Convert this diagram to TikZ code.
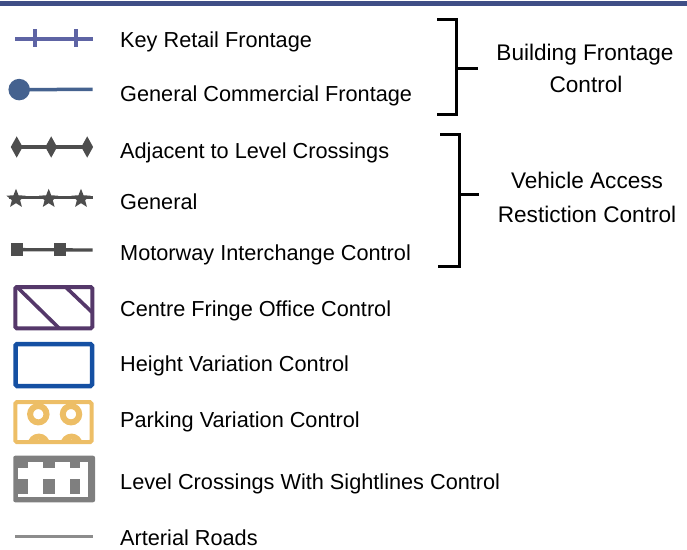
\documentclass[tikz,border=0pt]{standalone}
\usepackage{fontspec}
\setmainfont{Liberation Sans}
\usetikzlibrary{shapes.geometric}
\definecolor{barblue}{RGB}{63,78,134}
\definecolor{retail}{RGB}{94,100,164}
\definecolor{commercial}{RGB}{69,98,143}
\definecolor{darkgrey}{RGB}{77,77,77}
\definecolor{fringe}{RGB}{85,56,106}
\definecolor{heightblue}{RGB}{21,80,163}
\definecolor{parking}{RGB}{237,190,102}
\definecolor{levelgrey}{RGB}{127,127,127}
\definecolor{arterial}{RGB}{140,140,140}
\begin{document}
\begin{tikzpicture}[x=1pt,y=-1pt,
  lbl/.style={anchor=base west, inner sep=0, font=\fontsize{21.7}{26}\selectfont},
  rlbl/.style={anchor=base, inner sep=0, font=\fontsize{22.6}{27}\selectfont},
  brk/.style={line width=3pt, black},
  dmd/.style={diamond, fill=darkgrey, inner sep=0, minimum width=12pt, minimum height=21.5pt},
  stl/.style={star, star points=5, star point ratio=2.3, fill=darkgrey, inner sep=0, minimum size=20pt},
  sqr/.style={rectangle, fill=darkgrey, inner sep=0, minimum size=12.3pt},
  dot/.style={circle, fill=commercial, inner sep=0, minimum size=21.5pt}]
\useasboundingbox (0,0) rectangle (687,549);
% top bar
\fill[barblue] (0,0.6) rectangle (687,6.3);

% Key retail frontage
\coordinate (kr1) at (15,38.8);
\coordinate (kr2) at (92.7,38.8);
\draw[retail, line width=4.3pt] (kr1) -- (kr2);
\coordinate (kt1a) at (35,29.3); \coordinate (kt1b) at (35,47.3);
\coordinate (kt2a) at (75.8,29.3); \coordinate (kt2b) at (75.8,47.3);
\draw[retail, line width=3.5pt] (kt1a) -- (kt1b);
\draw[retail, line width=3.5pt] (kt2a) -- (kt2b);
\node[lbl] (t1) at (120,47.3) {Key Retail Frontage};

% General commercial
\coordinate (gc2) at (92.7,89.4);
\node[dot] (gc1) at (19.2,89.6) {};
\draw[commercial, line width=3.5pt] (gc1.center) -- (gc2);
\node[lbl] (t2) at (120,101.7) {General Commercial Frontage};

% diamonds
\node[dmd] (d1) at (16.7,147) {};
\node[dmd] (d2) at (51.2,147) {};
\node[dmd] (d3) at (87.2,147) {};
\draw[darkgrey, line width=4.2pt] (d1.center) -- (d3.center);
\node[lbl] (t3) at (120,158.3) {Adjacent to Level Crossings};

% stars
\coordinate (s0) at (8.5,197.5);
\coordinate (s4) at (92.7,197.5);
\draw[darkgrey, line width=3pt] (s0) -- (s4);
\node[stl] (s1) at (16,198.8) {};
\node[stl] (s2) at (48.7,198.8) {};
\node[stl] (s3) at (81,198.8) {};
\node[lbl] (t4) at (120,209.3) {General};

% squares
\node[sqr] (q1) at (16.8,249.6) {};
\node[sqr] (q2) at (60,249.6) {};
\coordinate (q3) at (92.7,250);
\draw[darkgrey, line width=3.3pt] (q1.center) -- (q3);
\node[lbl] (t5) at (120,260) {Motorway Interchange Control};

% centre fringe
\begin{scope}
\clip (15.5,287.2) rectangle (92.2,328.2);
\draw[fringe, line width=3.6pt] (14.5,284.5) -- (62,331);
\draw[fringe, line width=3.6pt] (63,284.5) -- (96,316);
\end{scope}
\draw[fringe, line width=4pt, rounded corners=1.5pt] (15.3,287) rectangle (92.3,328.3);
\node[lbl] (t6) at (120,316.7) {Centre Fringe Office Control};

% height variation
\draw[heightblue, line width=4.5pt, rounded corners=1.5pt] (15.6,344) rectangle (92,386);
\node[lbl] (t7) at (120,371.7) {Height Variation Control};

% parking
\begin{scope}
\clip (15,402) rectangle (92,442.5);
\draw[parking, line width=6pt] (38.8,444.8) circle (8.2);
\draw[parking, line width=6pt] (71.5,444.8) circle (8.2);
\end{scope}
\draw[parking, line width=6pt] (38.3,414.2) circle (8.2);
\draw[parking, line width=6pt] (71,414.2) circle (8.2);
\draw[parking, line width=4pt, rounded corners=1.5pt] (15.3,402.2) rectangle (91.5,442.2);
\node[lbl] (t8) at (120,427.3) {Parking Variation Control};

% level crossings
\fill[levelgrey, rounded corners=2pt] (13.3,455.7) rectangle (95,502.3);
\fill[white] (28.3,461.7) rectangle (43.3,468.6);
\fill[white] (55,461.7) rectangle (70,468.6);
\fill[white] (80,461.7) rectangle (88.3,468.6);
\fill[white] (18.3,468.3) rectangle (88.3,479.3);
\fill[white] (28.3,479) rectangle (43.3,497.3);
\fill[white] (55,479) rectangle (70,497.3);
\fill[white] (80,479) rectangle (88.3,497.3);
\fill[white] (18.3,494.3) rectangle (88.3,497.3);
\node[lbl] (t9) at (120,489.3) {Level Crossings With Sightlines Control};

% arterial
\coordinate (a1) at (15,536.7);
\coordinate (a2) at (92.7,536.7);
\draw[arterial, line width=3.3pt] (a1) -- (a2);
\node[lbl] (t10) at (120,545) {Arterial Roads};

% bracket 1
\coordinate (b1a) at (437.3,19.8);
\coordinate (b1b) at (456.7,19.8);
\coordinate (b1c) at (456.7,114.3);
\coordinate (b1d) at (437.3,114.3);
\coordinate (b1m) at (456.7,68.3);
\coordinate (b1t) at (478.3,68.3);
\draw[brk] (b1a) -- (b1b) -- (b1c) -- (b1d);
\draw[brk] (b1m) -- (b1t);
\node[rlbl] (r1) at (585,60) {Building Frontage};
\node[rlbl] (r2) at (586,92) {Control};

% bracket 2
\coordinate (b2a) at (440,134.3);
\coordinate (b2b) at (459.3,134.3);
\coordinate (b2c) at (459.3,266);
\coordinate (b2d) at (438.3,266);
\coordinate (b2m) at (459.3,194);
\coordinate (b2t) at (479.3,194);
\draw[brk] (b2a) -- (b2b) -- (b2c) -- (b2d);
\draw[brk] (b2m) -- (b2t);
\node[rlbl] (r3) at (587,188.5) {Vehicle Access};
\node[rlbl] (r4) at (587,222) {Restiction Control};
\end{tikzpicture}
\end{document}
